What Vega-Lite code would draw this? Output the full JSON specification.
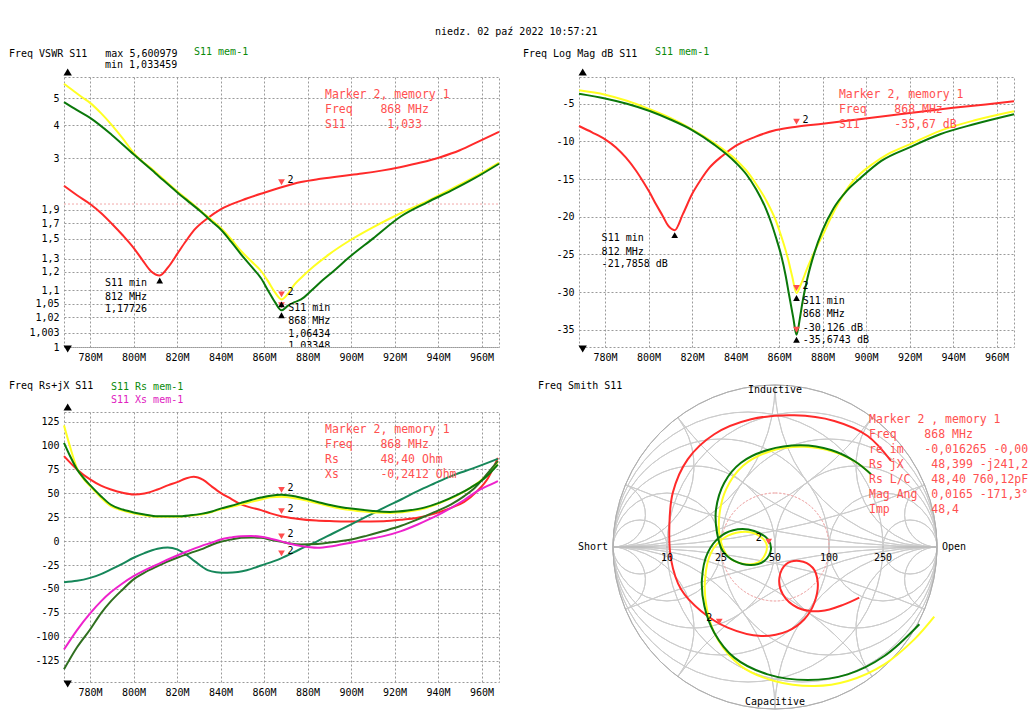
{
"$schema": "https://vega.github.io/schema/vega-lite/v6.json",
"background": "white",
"padding": {"left": 8, "top": 27, "right": 2, "bottom": 2},
"title": {"text": "niedz. 02 paź 2022 10:57:21", "anchor": "middle", "offset": 9, "dx": -2},
"config": {
  "font": "DejaVu Sans Mono",
  "title": {"font": "DejaVu Sans Mono", "fontSize": 10, "fontWeight": "normal", "color": "#000000"},
  "view": {"stroke": "#9a9a9a", "strokeDash": [2, 2], "strokeWidth": 1},
  "axis": {"domain": false, "ticks": false, "grid": true, "gridColor": "#9a9a9a", "gridDash": [2, 2], "gridWidth": 1, "gridOpacity": 1, "labelFont": "DejaVu Sans Mono", "labelFontSize": 10, "labelColor": "#000000", "labelPadding": 5, "labelOverlap": false, "labelFlush": false, "labelBound": false}
},
"datasets": {
  "tl": [
    {"s":"red","f":768,"v":1.35},{"s":"red","f":774,"v":1.16},{"s":"red","f":780,"v":1.0},{"s":"red","f":785,"v":0.85},{"s":"red","f":790,"v":0.69},{"s":"red","f":795,"v":0.54},{"s":"red","f":800,"v":0.40},{"s":"red","f":804,"v":0.29},{"s":"red","f":808,"v":0.205},{"s":"red","f":812,"v":0.177},{"s":"red","f":816,"v":0.235},{"s":"red","f":820,"v":0.34},{"s":"red","f":824,"v":0.47},{"s":"red","f":828,"v":0.61},{"s":"red","f":834,"v":0.77},{"s":"red","f":840,"v":0.91},{"s":"red","f":850,"v":1.07},{"s":"red","f":860,"v":1.21},{"s":"red","f":868,"v":1.32},{"s":"red","f":877,"v":1.43},{"s":"red","f":886,"v":1.50},{"s":"red","f":895,"v":1.56},{"s":"red","f":905,"v":1.62},{"s":"red","f":914,"v":1.69},{"s":"red","f":923,"v":1.78},{"s":"red","f":932,"v":1.89},{"s":"red","f":941,"v":2.03},{"s":"red","f":950,"v":2.22},{"s":"red","f":959,"v":2.49},{"s":"red","f":968,"v":2.78},
    {"s":"yellow","f":768,"v":4.60},{"s":"yellow","f":772,"v":4.32},{"s":"yellow","f":776,"v":4.05},{"s":"yellow","f":780,"v":3.81},{"s":"yellow","f":785,"v":3.42},{"s":"yellow","f":790,"v":3.0},{"s":"yellow","f":795,"v":2.57},{"s":"yellow","f":800,"v":2.15},{"s":"yellow","f":810,"v":1.66},{"s":"yellow","f":820,"v":1.24},{"s":"yellow","f":826,"v":1.04},{"s":"yellow","f":831,"v":0.88},{"s":"yellow","f":836,"v":0.74},{"s":"yellow","f":840,"v":0.636},{"s":"yellow","f":845,"v":0.49},{"s":"yellow","f":849.4,"v":0.369},{"s":"yellow","f":854,"v":0.28},{"s":"yellow","f":858.6,"v":0.206},{"s":"yellow","f":862,"v":0.14},{"s":"yellow","f":865,"v":0.09},{"s":"yellow","f":868,"v":0.064},{"s":"yellow","f":871,"v":0.085},{"s":"yellow","f":874,"v":0.127},{"s":"yellow","f":878,"v":0.175},{"s":"yellow","f":883,"v":0.241},{"s":"yellow","f":890,"v":0.34},{"s":"yellow","f":899,"v":0.473},{"s":"yellow","f":910,"v":0.64},{"s":"yellow","f":923,"v":0.85},{"s":"yellow","f":935,"v":1.05},{"s":"yellow","f":946,"v":1.283},{"s":"yellow","f":957,"v":1.55},{"s":"yellow","f":968,"v":1.89},
    {"s":"green","f":768,"v":3.84},{"s":"green","f":774,"v":3.53},{"s":"green","f":780,"v":3.25},{"s":"green","f":790,"v":2.68},{"s":"green","f":800,"v":2.108},{"s":"green","f":810,"v":1.63},{"s":"green","f":820,"v":1.22},{"s":"green","f":826,"v":1.02},{"s":"green","f":831,"v":0.87},{"s":"green","f":836,"v":0.72},{"s":"green","f":840,"v":0.615},{"s":"green","f":845,"v":0.46},{"s":"green","f":849.4,"v":0.338},{"s":"green","f":854,"v":0.24},{"s":"green","f":858.6,"v":0.16},{"s":"green","f":862,"v":0.095},{"s":"green","f":865,"v":0.055},{"s":"green","f":868,"v":0.0335},{"s":"green","f":871,"v":0.045},{"s":"green","f":874,"v":0.055},{"s":"green","f":877,"v":0.064},{"s":"green","f":882,"v":0.10},{"s":"green","f":887,"v":0.15},{"s":"green","f":892,"v":0.206},{"s":"green","f":899,"v":0.31},{"s":"green","f":910,"v":0.50},{"s":"green","f":923,"v":0.80},{"s":"green","f":935,"v":1.03},{"s":"green","f":946,"v":1.25},{"s":"green","f":957,"v":1.52},{"s":"green","f":968,"v":1.86}
  ],
  "tr": [
    {"s":"red","f":768,"v":-7.96},{"s":"red","f":774,"v":-8.8},{"s":"red","f":780,"v":-9.73},{"s":"red","f":785,"v":-10.8},{"s":"red","f":789.6,"v":-12.17},{"s":"red","f":794,"v":-13.8},{"s":"red","f":797.3,"v":-15.26},{"s":"red","f":800.5,"v":-16.8},{"s":"red","f":803.4,"v":-18.36},{"s":"red","f":806.5,"v":-19.9},{"s":"red","f":809,"v":-21.2},{"s":"red","f":812,"v":-21.79},{"s":"red","f":815.7,"v":-19.7},{"s":"red","f":820,"v":-17.0},{"s":"red","f":824,"v":-15.1},{"s":"red","f":828,"v":-13.5},{"s":"red","f":834,"v":-11.9},{"s":"red","f":840,"v":-10.6},{"s":"red","f":849,"v":-9.4},{"s":"red","f":858.6,"v":-8.5},{"s":"red","f":868,"v":-8.05},{"s":"red","f":880,"v":-7.65},{"s":"red","f":895,"v":-7.13},{"s":"red","f":910,"v":-6.6},{"s":"red","f":925,"v":-6.06},{"s":"red","f":940,"v":-5.55},{"s":"red","f":955,"v":-5.1},{"s":"red","f":968,"v":-4.68},
    {"s":"yellow","f":768,"v":-3.22},{"s":"yellow","f":780,"v":-3.8},{"s":"yellow","f":790,"v":-4.6},{"s":"yellow","f":800.5,"v":-5.74},{"s":"yellow","f":810,"v":-6.9},{"s":"yellow","f":820,"v":-8.4},{"s":"yellow","f":830,"v":-10.2},{"s":"yellow","f":840,"v":-12.4},{"s":"yellow","f":845,"v":-13.9},{"s":"yellow","f":849.5,"v":-15.7},{"s":"yellow","f":854,"v":-17.8},{"s":"yellow","f":858.6,"v":-20.6},{"s":"yellow","f":861,"v":-22.6},{"s":"yellow","f":864,"v":-25.5},{"s":"yellow","f":866,"v":-27.9},{"s":"yellow","f":868,"v":-30.13},{"s":"yellow","f":870,"v":-29.0},{"s":"yellow","f":873,"v":-26.8},{"s":"yellow","f":877,"v":-24.2},{"s":"yellow","f":880.8,"v":-22.0},{"s":"yellow","f":884,"v":-20.0},{"s":"yellow","f":887.7,"v":-18.0},{"s":"yellow","f":892,"v":-16.0},{"s":"yellow","f":897.7,"v":-14.2},{"s":"yellow","f":903,"v":-13.0},{"s":"yellow","f":910,"v":-11.7},{"s":"yellow","f":920,"v":-10.4},{"s":"yellow","f":934,"v":-8.6},{"s":"yellow","f":950,"v":-7.2},{"s":"yellow","f":968,"v":-6.0},
    {"s":"green","f":768,"v":-3.67},{"s":"green","f":780,"v":-4.3},{"s":"green","f":790,"v":-5.0},{"s":"green","f":800.5,"v":-5.97},{"s":"green","f":810,"v":-7.1},{"s":"green","f":820,"v":-8.5},{"s":"green","f":830,"v":-10.4},{"s":"green","f":840,"v":-12.8},{"s":"green","f":845,"v":-14.4},{"s":"green","f":849.5,"v":-16.4},{"s":"green","f":854,"v":-19.0},{"s":"green","f":856.5,"v":-20.9},{"s":"green","f":858.6,"v":-22.8},{"s":"green","f":861,"v":-25.2},{"s":"green","f":863,"v":-27.8},{"s":"green","f":864.6,"v":-30.4},{"s":"green","f":866.5,"v":-33.4},{"s":"green","f":868,"v":-35.67},{"s":"green","f":869.5,"v":-33.6},{"s":"green","f":870.6,"v":-31.6},{"s":"green","f":873,"v":-28.2},{"s":"green","f":876,"v":-25.0},{"s":"green","f":880,"v":-21.8},{"s":"green","f":885,"v":-18.9},{"s":"green","f":891,"v":-16.6},{"s":"green","f":897.7,"v":-14.8},{"s":"green","f":907,"v":-12.6},{"s":"green","f":920,"v":-10.8},{"s":"green","f":934,"v":-9.06},{"s":"green","f":950,"v":-7.7},{"s":"green","f":968,"v":-6.4}
  ],
  "bl": [
    {"s":"red","f":768,"v":88.9},{"s":"red","f":774,"v":75},{"s":"red","f":780,"v":64.5},{"s":"red","f":785,"v":58},{"s":"red","f":789.6,"v":54},{"s":"red","f":795,"v":50.5},{"s":"red","f":800,"v":48.8},{"s":"red","f":805,"v":49.8},{"s":"red","f":811,"v":54},{"s":"red","f":816,"v":58.5},{"s":"red","f":820,"v":61.7},{"s":"red","f":824,"v":65.5},{"s":"red","f":827.6,"v":67.3},{"s":"red","f":832,"v":64},{"s":"red","f":836,"v":57},{"s":"red","f":840,"v":50.5},{"s":"red","f":845,"v":44},{"s":"red","f":849.4,"v":38.4},{"s":"red","f":854,"v":35},{"s":"red","f":858.6,"v":32.4},{"s":"red","f":863,"v":29},{"s":"red","f":867.8,"v":26.1},{"s":"red","f":875,"v":23.5},{"s":"red","f":884,"v":21.5},{"s":"red","f":892,"v":20.9},{"s":"red","f":903,"v":20.5},{"s":"red","f":915,"v":20.9},{"s":"red","f":923,"v":22.3},{"s":"red","f":930.6,"v":24.4},{"s":"red","f":938,"v":28.5},{"s":"red","f":946,"v":34.8},{"s":"red","f":952,"v":41},{"s":"red","f":958,"v":52.3},{"s":"red","f":963,"v":66},{"s":"red","f":967.5,"v":87},
    {"s":"teal","f":768,"v":-42.9},{"s":"teal","f":774,"v":-41.5},{"s":"teal","f":780,"v":-38.4},{"s":"teal","f":785,"v":-34.5},{"s":"teal","f":789.6,"v":-29.6},{"s":"teal","f":795,"v":-23.5},{"s":"teal","f":800,"v":-17.4},{"s":"teal","f":805,"v":-12.5},{"s":"teal","f":811,"v":-8},{"s":"teal","f":815.7,"v":-6.6},{"s":"teal","f":820,"v":-8.7},{"s":"teal","f":824,"v":-14},{"s":"teal","f":828,"v":-20.9},{"s":"teal","f":834,"v":-30.3},{"s":"teal","f":838,"v":-32.5},{"s":"teal","f":843,"v":-33.1},{"s":"teal","f":848,"v":-32.3},{"s":"teal","f":852,"v":-30.5},{"s":"teal","f":858.6,"v":-25.5},{"s":"teal","f":867.8,"v":-18},{"s":"teal","f":876,"v":-9},{"s":"teal","f":884.6,"v":0},{"s":"teal","f":892,"v":8.5},{"s":"teal","f":900,"v":17.4},{"s":"teal","f":907,"v":25.5},{"s":"teal","f":915,"v":34.8},{"s":"teal","f":923,"v":43.5},{"s":"teal","f":930.6,"v":52.3},{"s":"teal","f":938,"v":60},{"s":"teal","f":946,"v":68},{"s":"teal","f":956,"v":76},{"s":"teal","f":967.5,"v":86},
    {"s":"yellow","f":768,"v":121},{"s":"yellow","f":771,"v":97},{"s":"yellow","f":774,"v":76},{"s":"yellow","f":777,"v":65},{"s":"yellow","f":780,"v":57.5},{"s":"yellow","f":785,"v":45.5},{"s":"yellow","f":789.6,"v":36.6},{"s":"yellow","f":795,"v":32},{"s":"yellow","f":800,"v":29},{"s":"yellow","f":805,"v":27},{"s":"yellow","f":811,"v":25.4},{"s":"yellow","f":820,"v":25.4},{"s":"yellow","f":826,"v":26.5},{"s":"yellow","f":831,"v":27.9},{"s":"yellow","f":836,"v":30.5},{"s":"yellow","f":840,"v":33.2},{"s":"yellow","f":845,"v":35.8},{"s":"yellow","f":849.4,"v":38.4},{"s":"yellow","f":854,"v":41},{"s":"yellow","f":858.6,"v":43.6},{"s":"yellow","f":863,"v":45.8},{"s":"yellow","f":868,"v":46.5},{"s":"yellow","f":875,"v":44.5},{"s":"yellow","f":884.6,"v":39.5},{"s":"yellow","f":892,"v":35.5},{"s":"yellow","f":900,"v":32.5},{"s":"yellow","f":910,"v":30},{"s":"yellow","f":918,"v":29.5},{"s":"yellow","f":926,"v":31},{"s":"yellow","f":933.6,"v":34},{"s":"yellow","f":941,"v":40},{"s":"yellow","f":949,"v":48},{"s":"yellow","f":955,"v":56},{"s":"yellow","f":961,"v":66},{"s":"yellow","f":967.5,"v":83},
    {"s":"dgreen","f":768,"v":-134},{"s":"dgreen","f":774,"v":-111},{"s":"dgreen","f":780,"v":-92.4},{"s":"dgreen","f":785,"v":-75.5},{"s":"dgreen","f":789.6,"v":-62.8},{"s":"dgreen","f":795,"v":-50.5},{"s":"dgreen","f":800,"v":-40},{"s":"dgreen","f":805,"v":-33},{"s":"dgreen","f":811,"v":-26.2},{"s":"dgreen","f":815,"v":-22},{"s":"dgreen","f":820,"v":-17.4},{"s":"dgreen","f":826,"v":-12.5},{"s":"dgreen","f":831,"v":-8.7},{"s":"dgreen","f":836,"v":-3.8},{"s":"dgreen","f":840,"v":-0.7},{"s":"dgreen","f":845,"v":1.8},{"s":"dgreen","f":849.4,"v":3.5},{"s":"dgreen","f":854,"v":3.9},{"s":"dgreen","f":858.6,"v":3.5},{"s":"dgreen","f":863,"v":1.5},{"s":"dgreen","f":868,"v":-0.8},{"s":"dgreen","f":872,"v":-2.6},{"s":"dgreen","f":877,"v":-3.5},{"s":"dgreen","f":884.6,"v":-3},{"s":"dgreen","f":892,"v":-1},{"s":"dgreen","f":900,"v":1.7},{"s":"dgreen","f":907,"v":5.5},{"s":"dgreen","f":915,"v":10.5},{"s":"dgreen","f":923,"v":16},{"s":"dgreen","f":930.6,"v":22.7},{"s":"dgreen","f":938,"v":30},{"s":"dgreen","f":946,"v":38.4},{"s":"dgreen","f":952,"v":47},{"s":"dgreen","f":957,"v":56},{"s":"dgreen","f":961,"v":66.2},{"s":"dgreen","f":967.5,"v":83.7},
    {"s":"green","f":768,"v":102.8},{"s":"green","f":771,"v":88},{"s":"green","f":774,"v":75},{"s":"green","f":777,"v":66},{"s":"green","f":780,"v":58.5},{"s":"green","f":785,"v":47},{"s":"green","f":789.6,"v":38},{"s":"green","f":795,"v":33},{"s":"green","f":800,"v":30},{"s":"green","f":805,"v":27.8},{"s":"green","f":811,"v":26},{"s":"green","f":820,"v":26},{"s":"green","f":826,"v":27},{"s":"green","f":831,"v":28.5},{"s":"green","f":836,"v":31},{"s":"green","f":840,"v":34},{"s":"green","f":845,"v":37},{"s":"green","f":849.4,"v":40},{"s":"green","f":854,"v":43},{"s":"green","f":858.6,"v":45.5},{"s":"green","f":863,"v":47.5},{"s":"green","f":868,"v":48.4},{"s":"green","f":875,"v":46.5},{"s":"green","f":884.6,"v":41},{"s":"green","f":892,"v":37},{"s":"green","f":900,"v":34},{"s":"green","f":910,"v":31.5},{"s":"green","f":918,"v":30.5},{"s":"green","f":926,"v":32},{"s":"green","f":933.6,"v":35},{"s":"green","f":941,"v":40.5},{"s":"green","f":949,"v":48.5},{"s":"green","f":955,"v":56},{"s":"green","f":961,"v":65},{"s":"green","f":967.5,"v":80},
    {"s":"magenta","f":768,"v":-113.3},{"s":"magenta","f":774,"v":-93},{"s":"magenta","f":780,"v":-75.6},{"s":"magenta","f":785,"v":-63},{"s":"magenta","f":789.6,"v":-53.3},{"s":"magenta","f":795,"v":-44},{"s":"magenta","f":800,"v":-36.6},{"s":"magenta","f":805,"v":-30.5},{"s":"magenta","f":811,"v":-24.4},{"s":"magenta","f":815,"v":-20},{"s":"magenta","f":820,"v":-15},{"s":"magenta","f":826,"v":-9.5},{"s":"magenta","f":831,"v":-5.2},{"s":"magenta","f":836,"v":-1.5},{"s":"magenta","f":840,"v":1.7},{"s":"magenta","f":845,"v":3.9},{"s":"magenta","f":849.4,"v":5.2},{"s":"magenta","f":854,"v":5.3},{"s":"magenta","f":858.6,"v":4.5},{"s":"magenta","f":863,"v":2.5},{"s":"magenta","f":868,"v":-0.24},{"s":"magenta","f":872,"v":-2.8},{"s":"magenta","f":877,"v":-5.2},{"s":"magenta","f":884.6,"v":-7},{"s":"magenta","f":892,"v":-5},{"s":"magenta","f":900,"v":-1.7},{"s":"magenta","f":907,"v":1.5},{"s":"magenta","f":915,"v":5.2},{"s":"magenta","f":923,"v":10.5},{"s":"magenta","f":930.6,"v":17.4},{"s":"magenta","f":938,"v":25},{"s":"magenta","f":946,"v":34.8},{"s":"magenta","f":952,"v":43},{"s":"magenta","f":958,"v":52.3},{"s":"magenta","f":963,"v":58},{"s":"magenta","f":967.5,"v":62.8}
  ],
  "sm": [
    {"s":"red","i":0,"gx":0.716,"gy":0.531},{"s":"red","i":1,"gx":0.572,"gy":0.685},{"s":"red","i":2,"gx":0.366,"gy":0.778},{"s":"red","i":3,"gx":0.119,"gy":0.813},{"s":"red","i":4,"gx":-0.148,"gy":0.788},{"s":"red","i":5,"gx":-0.375,"gy":0.696},{"s":"red","i":6,"gx":-0.539,"gy":0.541},{"s":"red","i":7,"gx":-0.631,"gy":0.335},{"s":"red","i":8,"gx":-0.652,"gy":0.130},{"s":"red","i":9,"gx":-0.642,"gy":-0.076},{"s":"red","i":10,"gx":-0.580,"gy":-0.261},{"s":"red","i":11,"gx":-0.457,"gy":-0.395},{"s":"red","i":12,"gx":-0.292,"gy":-0.498},{"s":"red","i":13,"gx":-0.086,"gy":-0.549},{"s":"red","i":14,"gx":0.078,"gy":-0.519},{"s":"red","i":15,"gx":0.181,"gy":-0.446},{"s":"red","i":16,"gx":0.243,"gy":-0.344},{"s":"red","i":17,"gx":0.264,"gy":-0.220},{"s":"red","i":18,"gx":0.233,"gy":-0.128},{"s":"red","i":19,"gx":0.150,"gy":-0.086},{"s":"red","i":20,"gx":0.068,"gy":-0.107},{"s":"red","i":21,"gx":0.027,"gy":-0.190},{"s":"red","i":22,"gx":0.048,"gy":-0.292},{"s":"red","i":23,"gx":0.140,"gy":-0.375},{"s":"red","i":24,"gx":0.284,"gy":-0.395},{"s":"red","i":25,"gx":0.428,"gy":-0.354},{"s":"red","i":26,"gx":0.520,"gy":-0.313},
    {"s":"yellow","i":0,"gx":0.983,"gy":-0.430},{"s":"yellow","i":1,"gx":0.860,"gy":-0.570},{"s":"yellow","i":2,"gx":0.675,"gy":-0.724},{"s":"yellow","i":3,"gx":0.449,"gy":-0.827},{"s":"yellow","i":4,"gx":0.243,"gy":-0.858},{"s":"yellow","i":5,"gx":-0.004,"gy":-0.827},{"s":"yellow","i":6,"gx":-0.210,"gy":-0.735},{"s":"yellow","i":7,"gx":-0.354,"gy":-0.570},{"s":"yellow","i":8,"gx":-0.420,"gy":-0.385},{"s":"yellow","i":9,"gx":-0.432,"gy":-0.199},{"s":"yellow","i":10,"gx":-0.395,"gy":-0.035},{"s":"yellow","i":11,"gx":-0.313,"gy":0.057},{"s":"yellow","i":12,"gx":-0.210,"gy":0.093},{"s":"yellow","i":13,"gx":-0.128,"gy":0.085},{"s":"yellow","i":14,"gx":-0.056,"gy":0.027},{"s":"yellow","i":15,"gx":-0.056,"gy":-0.035},{"s":"yellow","i":16,"gx":-0.107,"gy":-0.097},{"s":"yellow","i":17,"gx":-0.210,"gy":-0.101},{"s":"yellow","i":18,"gx":-0.292,"gy":-0.056},{"s":"yellow","i":19,"gx":-0.338,"gy":0.048},{"s":"yellow","i":20,"gx":-0.344,"gy":0.191},{"s":"yellow","i":21,"gx":-0.302,"gy":0.356},{"s":"yellow","i":22,"gx":-0.199,"gy":0.500},{"s":"yellow","i":23,"gx":-0.025,"gy":0.593},{"s":"yellow","i":24,"gx":0.181,"gy":0.619},{"s":"yellow","i":25,"gx":0.366,"gy":0.586},{"s":"yellow","i":26,"gx":0.510,"gy":0.517},{"s":"yellow","i":27,"gx":0.582,"gy":0.459},
    {"s":"green","i":0,"gx":0.891,"gy":-0.477},{"s":"green","i":1,"gx":0.675,"gy":-0.673},{"s":"green","i":2,"gx":0.449,"gy":-0.786},{"s":"green","i":3,"gx":0.202,"gy":-0.821},{"s":"green","i":4,"gx":-0.045,"gy":-0.786},{"s":"green","i":5,"gx":-0.251,"gy":-0.683},{"s":"green","i":6,"gx":-0.375,"gy":-0.529},{"s":"green","i":7,"gx":-0.436,"gy":-0.364},{"s":"green","i":8,"gx":-0.451,"gy":-0.199},{"s":"green","i":9,"gx":-0.415,"gy":-0.035},{"s":"green","i":10,"gx":-0.333,"gy":0.068},{"s":"green","i":11,"gx":-0.230,"gy":0.109},{"s":"green","i":12,"gx":-0.128,"gy":0.099},{"s":"green","i":13,"gx":-0.045,"gy":0.048},{"s":"green","i":14,"gx":-0.025,"gy":-0.014},{"s":"green","i":15,"gx":-0.066,"gy":-0.086},{"s":"green","i":16,"gx":-0.148,"gy":-0.111},{"s":"green","i":17,"gx":-0.251,"gy":-0.086},{"s":"green","i":18,"gx":-0.323,"gy":-0.025},{"s":"green","i":19,"gx":-0.358,"gy":0.088},{"s":"green","i":20,"gx":-0.364,"gy":0.233},{"s":"green","i":21,"gx":-0.313,"gy":0.397},{"s":"green","i":22,"gx":-0.210,"gy":0.520},{"s":"green","i":23,"gx":-0.045,"gy":0.599},{"s":"green","i":24,"gx":0.160,"gy":0.628},{"s":"green","i":25,"gx":0.346,"gy":0.599},{"s":"green","i":26,"gx":0.490,"gy":0.531},{"s":"green","i":27,"gx":0.593,"gy":0.449}
  ],
  "grid": [
    {"cx":0.16667,"cy":0,"r":0.83333,"t0":0,"t1":360},{"cx":0.33333,"cy":0,"r":0.66667,"t0":0,"t1":360},{"cx":0.5,"cy":0,"r":0.5,"t0":0,"t1":360},{"cx":0.66667,"cy":0,"r":0.33333,"t0":0,"t1":360},{"cx":0.83333,"cy":0,"r":0.16667,"t0":0,"t1":360},
    {"cx":-0.16667,"cy":0,"r":0.83333,"t0":0,"t1":360},{"cx":-0.33333,"cy":0,"r":0.66667,"t0":0,"t1":360},{"cx":-0.5,"cy":0,"r":0.5,"t0":0,"t1":360},{"cx":-0.66667,"cy":0,"r":0.33333,"t0":0,"t1":360},{"cx":-0.83333,"cy":0,"r":0.16667,"t0":0,"t1":360},
    {"cx":1,"cy":5,"r":5,"t0":180,"t1":202.62},{"cx":1,"cy":2,"r":2,"t0":180,"t1":233.13},{"cx":1,"cy":1,"r":1,"t0":180,"t1":270},{"cx":1,"cy":0.5,"r":0.5,"t0":180,"t1":306.87},{"cx":1,"cy":0.2,"r":0.2,"t0":180,"t1":337.38},
    {"cx":1,"cy":-5,"r":5,"t0":337.38,"t1":360},{"cx":1,"cy":-2,"r":2,"t0":306.87,"t1":360},{"cx":1,"cy":-1,"r":1,"t0":270,"t1":360},{"cx":1,"cy":-0.5,"r":0.5,"t0":233.13,"t1":360},{"cx":1,"cy":-0.2,"r":0.2,"t0":202.62,"t1":360},
    {"cx":-1,"cy":5,"r":5,"t0":157.38,"t1":180},{"cx":-1,"cy":2,"r":2,"t0":126.87,"t1":180},{"cx":-1,"cy":1,"r":1,"t0":90,"t1":180},{"cx":-1,"cy":0.5,"r":0.5,"t0":53.13,"t1":180},{"cx":-1,"cy":0.2,"r":0.2,"t0":22.62,"t1":180},
    {"cx":-1,"cy":-5,"r":5,"t0":0,"t1":22.62},{"cx":-1,"cy":-2,"r":2,"t0":0,"t1":53.13},{"cx":-1,"cy":-1,"r":1,"t0":0,"t1":90},{"cx":-1,"cy":-0.5,"r":0.5,"t0":0,"t1":126.87},{"cx":-1,"cy":-0.2,"r":0.2,"t0":0,"t1":157.38}
  ]
},
"columns": 2,
"spacing": {"row": 65, "column": 80},
"bounds": "flush",
"align": "all",
"resolve": {"scale": {"x": "independent", "y": "independent", "color": "independent"}},
"concat": [
  {
    "width": 435, "height": 270,
    "title": {"text": "Freq VSWR S11\u00a0\u00a0\u00a0max 5,600979", "anchor": "start", "frame": "group", "dx": -55, "offset": -12},
    "encoding": {
      "x": {"field": "f", "type": "quantitative", "scale": {"domain": [768, 968], "nice": false, "zero": false}, "axis": {"values": [780,800,820,840,860,880,900,920,940,960], "labelExpr": "datum.value + 'M'", "title": null}},
      "y": {"field": "v", "type": "quantitative", "scale": {"type": "pow", "exponent": 0.4, "domain": [0, 4.9], "nice": false, "zero": false}, "axis": {"values": [0,0.003,0.02,0.05,0.1,0.2,0.3,0.5,0.7,0.9,2,3,4], "labelExpr": "replace(format(datum.value + 1, '.4~f'), '.', ',')", "title": null}}
    },
    "layer": [
      {"data": {"values": [{"f":768,"v":1},{"f":968,"v":1}]}, "mark": {"type": "line", "color": "#f2a8a8", "strokeDash": [2, 2], "strokeWidth": 1}},
      {"data": {"name": "tl"}, "mark": {"type": "line", "strokeWidth": 2, "interpolate": "monotone"}, "encoding": {"color": {"field": "s", "type": "nominal", "scale": {"domain": ["red","yellow","green"], "range": ["#ff2a2a","#ffff22","#0a780a"]}, "legend": null}}},
      {"data": {"values": [{"f":868,"v":1.32},{"f":868,"v":0.064},{"f":868,"v":0.0335}]}, "mark": {"type": "point", "shape": "triangle-down", "filled": true, "color": "#ff4d4d", "size": 45, "opacity": 1, "yOffset": -5}},
      {"data": {"values": [{"f":812,"v":0.177},{"f":868,"v":0.064},{"f":868,"v":0.0335}]}, "mark": {"type": "point", "shape": "triangle-up", "filled": true, "color": "#000000", "size": 45, "opacity": 1, "yOffset": 5}},
      {"data": {"values": [{"f":868,"v":1.32,"t":"2"},{"f":868,"v":0.064,"t":"2"}]}, "mark": {"type": "text", "align": "left", "baseline": "middle", "dx": 6, "dy": -7, "fontSize": 10, "color": "#000000"}, "encoding": {"text": {"field": "t", "type": "nominal"}}},
      {"data": {"values": [{"f":786.85,"v":0.13246,"t":"S11 min"},{"f":786.85,"v":0.07338,"t":"812 MHz"},{"f":786.85,"v":0.035688,"t":"1,17726"}]}, "mark": {"type": "text", "align": "left", "baseline": "middle", "fontSize": 10, "color": "#000000"}, "encoding": {"text": {"field": "t", "type": "nominal"}}},
      {"data": {"values": [{"f":871.1,"v":0.039596,"t":"S11 min"},{"f":871.1,"v":0.014096,"t":"868 MHz"},{"f":871.1,"v":0.002638,"t":"1,06434"},{"f":871.1,"v":0.000004,"t":"1,03348"}]}, "mark": {"type": "text", "align": "left", "baseline": "middle", "fontSize": 10, "color": "#000000", "clip": true}, "encoding": {"text": {"field": "t", "type": "nominal"}}},
      {"data": {"values": [{"f":888,"v":4.122,"t":"Marker 2, memory 1"},{"f":888,"v":3.536,"t":"Freq\u00a0\u00a0\u00a0\u00a0868 MHz"},{"f":888,"v":3.003,"t":"S11\u00a0\u00a0\u00a0\u00a0\u00a0\u00a01,033"}]}, "mark": {"type": "text", "align": "left", "baseline": "middle", "fontSize": 11.5, "color": "#ff5050"}, "encoding": {"text": {"field": "t", "type": "nominal"}}},
      {"data": {"values": [{"f":827.77,"v":6.1125,"t":"S11 mem-1"}]}, "mark": {"type": "text", "align": "left", "baseline": "middle", "fontSize": 10, "color": "#0a8a0a"}, "encoding": {"text": {"field": "t", "type": "nominal"}}},
      {"data": {"values": [{"f":786.85,"v":5.461,"t":"min 1,033459"}]}, "mark": {"type": "text", "align": "left", "baseline": "middle", "fontSize": 10, "color": "#000000"}, "encoding": {"text": {"field": "t", "type": "nominal"}}},
      {"data": {"values": [{"f":769.7,"v":4.9}]}, "mark": {"type": "point", "shape": "triangle-up", "filled": true, "color": "#000000", "size": 70, "opacity": 1, "yOffset": -5}},
      {"data": {"values": [{"f":769.7,"v":0}]}, "mark": {"type": "point", "shape": "triangle-down", "filled": true, "color": "#000000", "size": 70, "opacity": 1, "yOffset": 2}}
    ]
  },
  {
    "width": 435, "height": 270,
    "title": {"text": "Freq Log Mag dB S11", "anchor": "start", "frame": "group", "dx": -56, "offset": -12},
    "encoding": {
      "x": {"field": "f", "type": "quantitative", "scale": {"domain": [768, 968], "nice": false, "zero": false}, "axis": {"values": [780,800,820,840,860,880,900,920,940,960], "labelExpr": "datum.value + 'M'", "title": null}},
      "y": {"field": "v", "type": "quantitative", "scale": {"domain": [-37.3, -1.456], "nice": false, "zero": false}, "axis": {"values": [-35,-30,-25,-20,-15,-10,-5], "labelExpr": "'' + datum.value", "title": null}}
    },
    "layer": [
      {"data": {"name": "tr"}, "mark": {"type": "line", "strokeWidth": 2, "interpolate": "monotone"}, "encoding": {"color": {"field": "s", "type": "nominal", "scale": {"domain": ["red","yellow","green"], "range": ["#ff2a2a","#ffff22","#0a780a"]}, "legend": null}}},
      {"data": {"values": [{"f":868,"v":-8.05},{"f":868,"v":-30.13},{"f":868,"v":-35.67}]}, "mark": {"type": "point", "shape": "triangle-down", "filled": true, "color": "#ff4d4d", "size": 45, "opacity": 1, "yOffset": -5}},
      {"data": {"values": [{"f":812,"v":-21.79},{"f":868,"v":-30.13},{"f":868,"v":-35.67}]}, "mark": {"type": "point", "shape": "triangle-up", "filled": true, "color": "#000000", "size": 45, "opacity": 1, "yOffset": 5}},
      {"data": {"values": [{"f":868,"v":-8.05,"t":"2"},{"f":868,"v":-30.13,"t":"2"}]}, "mark": {"type": "text", "align": "left", "baseline": "middle", "dx": 6, "dy": -7, "fontSize": 10, "color": "#000000"}, "encoding": {"text": {"field": "t", "type": "nominal"}}},
      {"data": {"values": [{"f":778.4,"v":-22.868,"t":"S11 min"},{"f":778.4,"v":-24.647,"t":"812 MHz"},{"f":778.4,"v":-26.319,"t":"-21,7858 dB"}]}, "mark": {"type": "text", "align": "left", "baseline": "middle", "fontSize": 10, "color": "#000000"}, "encoding": {"text": {"field": "t", "type": "nominal"}}},
      {"data": {"values": [{"f":870.85,"v":-31.191,"t":"S11 min"},{"f":870.85,"v":-32.957,"t":"868 MHz"},{"f":870.85,"v":-34.736,"t":"-30,126 dB"},{"f":870.85,"v":-36.408,"t":"-35,6743 dB"}]}, "mark": {"type": "text", "align": "left", "baseline": "middle", "fontSize": 10, "color": "#000000"}, "encoding": {"text": {"field": "t", "type": "nominal"}}},
      {"data": {"values": [{"f":887.5,"v":-3.845,"t":"Marker 2, memory 1"},{"f":887.5,"v":-5.836,"t":"Freq\u00a0\u00a0\u00a0\u00a0868 MHz"},{"f":887.5,"v":-7.828,"t":"S11\u00a0\u00a0\u00a0\u00a0\u00a0-35,67 dB"}]}, "mark": {"type": "text", "align": "left", "baseline": "middle", "fontSize": 11.5, "color": "#ff5050"}, "encoding": {"text": {"field": "t", "type": "nominal"}}},
      {"data": {"values": [{"f":802.94,"v":1.863,"t":"S11 mem-1"}]}, "mark": {"type": "text", "align": "left", "baseline": "middle", "fontSize": 10, "color": "#0a8a0a"}, "encoding": {"text": {"field": "t", "type": "nominal"}}},
      {"data": {"values": [{"f":769.7,"v":-1.456}]}, "mark": {"type": "point", "shape": "triangle-up", "filled": true, "color": "#000000", "size": 70, "opacity": 1, "yOffset": -5}},
      {"data": {"values": [{"f":769.7,"v":-37.3}]}, "mark": {"type": "point", "shape": "triangle-down", "filled": true, "color": "#000000", "size": 70, "opacity": 1, "yOffset": 2}}
    ]
  },
  {
    "width": 435, "height": 270,
    "title": {"text": "Freq Rs+jX S11", "anchor": "start", "frame": "group", "dx": -55, "offset": -9},
    "encoding": {
      "x": {"field": "f", "type": "quantitative", "scale": {"domain": [768, 968], "nice": false, "zero": false}, "axis": {"values": [780,800,820,840,860,880,900,920,940,960], "labelExpr": "datum.value + 'M'", "title": null}},
      "y": {"field": "v", "type": "quantitative", "scale": {"domain": [-147.3, 135.0], "nice": false, "zero": false}, "axis": {"values": [-125,-100,-75,-50,-25,0,25,50,75,100,125], "labelExpr": "'' + datum.value", "title": null}}
    },
    "layer": [
      {"data": {"name": "bl"}, "mark": {"type": "line", "strokeWidth": 2, "interpolate": "monotone"}, "encoding": {"color": {"field": "s", "type": "nominal", "scale": {"domain": ["red","teal","yellow","dgreen","green","magenta"], "range": ["#ff2a2a","#16875a","#ffff22","#2f6f1f","#0a780a","#ee22cc"]}, "legend": null}}},
      {"data": {"values": [{"f":868,"v":48.4},{"f":868,"v":26.1},{"f":868,"v":-0.24},{"f":868,"v":-18}]}, "mark": {"type": "point", "shape": "triangle-down", "filled": true, "color": "#ff4d4d", "size": 45, "opacity": 1, "yOffset": -5}},
      {"data": {"values": [{"f":868,"v":48.4,"t":"2"},{"f":868,"v":26.1,"t":"2"},{"f":868,"v":-0.24,"t":"2"},{"f":868,"v":-18,"t":"2"}]}, "mark": {"type": "text", "align": "left", "baseline": "middle", "dx": 6, "dy": -7, "fontSize": 10, "color": "#000000"}, "encoding": {"text": {"field": "t", "type": "nominal"}}},
      {"data": {"values": [{"f":888,"v":116.1,"t":"Marker 2, memory 1"},{"f":888,"v":100.4,"t":"Freq\u00a0\u00a0\u00a0\u00a0868 MHz"},{"f":888,"v":84.7,"t":"Rs\u00a0\u00a0\u00a0\u00a0\u00a0\u00a048,40 Ohm"},{"f":888,"v":69.0,"t":"Xs\u00a0\u00a0\u00a0\u00a0\u00a0\u00a0-0,2412 Ohm"}]}, "mark": {"type": "text", "align": "left", "baseline": "middle", "fontSize": 11.5, "color": "#ff5050"}, "encoding": {"text": {"field": "t", "type": "nominal"}}},
      {"data": {"values": [{"f":789.6,"v":161.1,"t":"S11 Rs mem-1"}]}, "mark": {"type": "text", "align": "left", "baseline": "middle", "fontSize": 10, "color": "#0a8a0a"}, "encoding": {"text": {"field": "t", "type": "nominal"}}},
      {"data": {"values": [{"f":789.6,"v":147.5,"t":"S11 Xs mem-1"}]}, "mark": {"type": "text", "align": "left", "baseline": "middle", "fontSize": 10, "color": "#e020c0"}, "encoding": {"text": {"field": "t", "type": "nominal"}}},
      {"data": {"values": [{"f":769.7,"v":135.0}]}, "mark": {"type": "point", "shape": "triangle-up", "filled": true, "color": "#000000", "size": 70, "opacity": 1, "yOffset": -5}},
      {"data": {"values": [{"f":769.7,"v":-147.3}]}, "mark": {"type": "point", "shape": "triangle-down", "filled": true, "color": "#000000", "size": 70, "opacity": 1, "yOffset": 2}}
    ]
  },
  {
    "width": 435, "height": 270,
    "view": {"stroke": null},
    "title": {"text": "Freq Smith S11", "anchor": "start", "frame": "group", "dx": -41, "offset": -8},
    "layer": [
      {"data": {"name": "grid"}, "mark": {"type": "arc", "filled": false, "color": "#cccccc", "strokeWidth": 1},
       "encoding": {
         "x": {"field": "cx", "type": "quantitative", "scale": {"domain": [-1.2099, 1.4753], "nice": false, "zero": false}, "axis": null},
         "y": {"field": "cy", "type": "quantitative", "scale": {"domain": [-0.8333, 0.8333], "nice": false, "zero": false}, "axis": null},
         "theta": {"field": "t0", "type": "quantitative", "scale": {"type": "linear", "domain": [0, 360], "range": [0, 6.283185307179586]}, "stack": null},
         "theta2": {"field": "t1"},
         "radius": {"field": "r", "type": "quantitative", "scale": {"type": "linear", "domain": [0, 1], "range": [0, 162], "zero": true}},
         "radius2": {"field": "r"}
       }},
      {"data": {"values": [{"cx":0,"cy":0,"r":1,"t0":0,"t1":360}]}, "mark": {"type": "arc", "filled": false, "color": "#b0b0b0", "strokeWidth": 1},
       "encoding": {
         "x": {"field": "cx", "type": "quantitative", "scale": {"domain": [-1.2099, 1.4753], "nice": false, "zero": false}, "axis": null},
         "y": {"field": "cy", "type": "quantitative", "scale": {"domain": [-0.8333, 0.8333], "nice": false, "zero": false}, "axis": null},
         "theta": {"field": "t0", "type": "quantitative", "scale": {"type": "linear", "domain": [0, 360], "range": [0, 6.283185307179586]}, "stack": null},
         "theta2": {"field": "t1"},
         "radius": {"field": "r", "type": "quantitative", "scale": {"type": "linear", "domain": [0, 1], "range": [0, 162], "zero": true}},
         "radius2": {"field": "r"}
       }},
      {"data": {"values": [{"cx":0,"cy":0,"r":0.33333,"t0":0,"t1":360}]}, "mark": {"type": "arc", "filled": false, "color": "#f0b0b0", "strokeWidth": 1, "strokeDash": [2, 2]},
       "encoding": {
         "x": {"field": "cx", "type": "quantitative", "scale": {"domain": [-1.2099, 1.4753], "nice": false, "zero": false}, "axis": null},
         "y": {"field": "cy", "type": "quantitative", "scale": {"domain": [-0.8333, 0.8333], "nice": false, "zero": false}, "axis": null},
         "theta": {"field": "t0", "type": "quantitative", "scale": {"type": "linear", "domain": [0, 360], "range": [0, 6.283185307179586]}, "stack": null},
         "theta2": {"field": "t1"},
         "radius": {"field": "r", "type": "quantitative", "scale": {"type": "linear", "domain": [0, 1], "range": [0, 162], "zero": true}},
         "radius2": {"field": "r"}
       }},
      {"data": {"values": [{"gx":-1,"gx2":1,"gy":0}]}, "mark": {"type": "rule", "color": "#b0b0b0", "strokeWidth": 1},
       "encoding": {
         "x": {"field": "gx", "type": "quantitative", "scale": {"domain": [-1.2099, 1.4753], "nice": false, "zero": false}, "axis": null},
         "x2": {"field": "gx2"},
         "y": {"field": "gy", "type": "quantitative", "scale": {"domain": [-0.8333, 0.8333], "nice": false, "zero": false}, "axis": null}
       }},
      {"data": {"name": "sm"}, "mark": {"type": "line", "strokeWidth": 2, "interpolate": "catmull-rom"},
       "encoding": {
         "x": {"field": "gx", "type": "quantitative", "scale": {"domain": [-1.2099, 1.4753], "nice": false, "zero": false}, "axis": null},
         "y": {"field": "gy", "type": "quantitative", "scale": {"domain": [-0.8333, 0.8333], "nice": false, "zero": false}, "axis": null},
         "order": {"field": "i", "type": "quantitative"},
         "color": {"field": "s", "type": "nominal", "scale": {"domain": ["red","yellow","green"], "range": ["#ff2a2a","#ffff22","#0a780a"]}, "legend": null}
       }},
      {"data": {"values": [{"gx":-0.344,"gy":-0.461},{"gx":-0.039,"gy":0.033}]}, "mark": {"type": "point", "shape": "triangle-down", "filled": true, "color": "#ff4d4d", "size": 45, "opacity": 1},
       "encoding": {
         "x": {"field": "gx", "type": "quantitative", "scale": {"domain": [-1.2099, 1.4753], "nice": false, "zero": false}, "axis": null},
         "y": {"field": "gy", "type": "quantitative", "scale": {"domain": [-0.8333, 0.8333], "nice": false, "zero": false}, "axis": null}
       }},
      {"data": {"values": [{"gx":-0.344,"gy":-0.461,"t":"2"},{"gx":-0.039,"gy":0.033,"t":"2"}]}, "mark": {"type": "text", "align": "center", "baseline": "middle", "dx": -10, "dy": -4, "fontSize": 10, "color": "#000000"},
       "encoding": {
         "x": {"field": "gx", "type": "quantitative", "scale": {"domain": [-1.2099, 1.4753], "nice": false, "zero": false}, "axis": null},
         "y": {"field": "gy", "type": "quantitative", "scale": {"domain": [-0.8333, 0.8333], "nice": false, "zero": false}, "axis": null},
         "text": {"field": "t", "type": "nominal"}
       }},
      {"data": {"values": [{"gx":0,"gy":0.969,"t":"Inductive"},{"gx":0,"gy":-0.957,"t":"Capacitive"},{"gx":-1.1235,"gy":0,"t":"Short"},{"gx":1.105,"gy":0,"t":"Open"},{"gx":-0.6667,"gy":-0.068,"t":"10"},{"gx":-0.3333,"gy":-0.068,"t":"25"},{"gx":0,"gy":-0.068,"t":"50"},{"gx":0.3333,"gy":-0.068,"t":"100"},{"gx":0.6667,"gy":-0.068,"t":"250"}]}, "mark": {"type": "text", "align": "center", "baseline": "middle", "fontSize": 10, "color": "#000000"},
       "encoding": {
         "x": {"field": "gx", "type": "quantitative", "scale": {"domain": [-1.2099, 1.4753], "nice": false, "zero": false}, "axis": null},
         "y": {"field": "gy", "type": "quantitative", "scale": {"domain": [-0.8333, 0.8333], "nice": false, "zero": false}, "axis": null},
         "text": {"field": "t", "type": "nominal"}
       }},
      {"data": {"values": [{"gx":0.580,"gy":0.784,"t":"Marker 2 , memory 1"},{"gx":0.580,"gy":0.691,"t":"Freq\u00a0\u00a0\u00a0\u00a0868 MHz"},{"gx":0.580,"gy":0.599,"t":"re im\u00a0\u00a0\u00a0-0,016265 -0,00"},{"gx":0.580,"gy":0.506,"t":"Rs jX\u00a0\u00a0\u00a0\u00a048,399 -j241,2"},{"gx":0.580,"gy":0.414,"t":"Rs L/C\u00a0\u00a0\u00a048,40 760,12pF"},{"gx":0.580,"gy":0.321,"t":"Mag Ang\u00a0\u00a00,0165 -171,3°"},{"gx":0.580,"gy":0.228,"t":"Imp\u00a0\u00a0\u00a0\u00a0\u00a0\u00a048,4"}]}, "mark": {"type": "text", "align": "left", "baseline": "middle", "fontSize": 11.5, "color": "#ff5050"},
       "encoding": {
         "x": {"field": "gx", "type": "quantitative", "scale": {"domain": [-1.2099, 1.4753], "nice": false, "zero": false}, "axis": null},
         "y": {"field": "gy", "type": "quantitative", "scale": {"domain": [-0.8333, 0.8333], "nice": false, "zero": false}, "axis": null},
         "text": {"field": "t", "type": "nominal"}
       }}
    ]
  }
]
}
